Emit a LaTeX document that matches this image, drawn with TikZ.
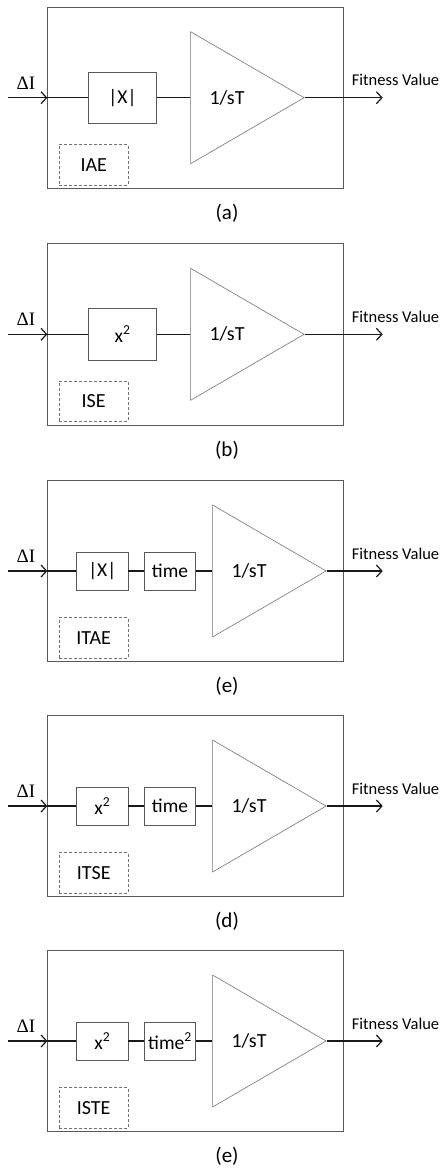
\documentclass[tikz,border=0pt]{standalone}
\usepackage{fontspec}
\setmainfont{Carlito}
\newfontfamily\deltafont{Liberation Serif}
\usetikzlibrary{arrows.meta}
\usetikzlibrary{shapes.geometric}
\usetikzlibrary{positioning}
\tikzset{frm/.style = {draw=black!65, line width=0.7pt, inner sep=0,
                       minimum width=295.6pt, minimum height=181.3pt}}
\tikzset{blk/.style = {draw=black!65, line width=0.7pt, inner sep=0,
                       font=\fontsize{19.5}{21}\selectfont}}
\tikzset{wideblk/.style = {blk, minimum width=68.4pt, minimum height=51.3pt}}
\tikzset{smallblk/.style = {blk, minimum width=51.3pt, minimum height=37.7pt}}
\tikzset{tag/.style = {draw=black!55, dash pattern=on 3pt off 2pt, line width=0.7pt,
                       minimum width=68.7pt, minimum height=40.7pt, inner sep=0,
                       font=\fontsize{20}{22}\selectfont}}
\tikzset{amp/.style = {draw=black!55, line width=0.6pt, isosceles triangle,
                       isosceles triangle stretches, inner sep=0,
                       minimum width=132pt, minimum height=113.5pt, anchor=lower side}}
\tikzset{sig/.style = {line width=1.5pt, black!90}}
\tikzset{tip/.style = {-{Straight Barb[length=5.5pt, width=12pt, line width=1.2pt]}}}

\begin{document}
\begin{tikzpicture}[x=1pt, y=-1pt]
  \useasboundingbox (0, 0) rectangle (441, 1170);

  % parts shared by all five panels
  \foreach \i/\y/\tx/\tagtext/\cap in {A/97.7/190.3/IAE/a, B/334.3/190.3/ISE/b,
      C/571/212.3/ITAE/e, D/806/212.3/ITSE/d, E/1041/212.3/ISTE/e} {
    \node [frm] (frame\i) at (195.5, \y) {};
    \node [amp] (tri\i) at (\tx, \y) {};
    \node [inner sep=0, font=\fontsize{20}{22}\selectfont,
           right=19pt of tri\i.lower side] (gain\i) {1/sT};
    \node [tag] (tag\i) at (93.7, \y+67) {\tagtext};
    \coordinate (in\i) at (8.3, \y);
    \coordinate (out\i) at (382.7, \y);
    \node [inner sep=0, anchor=base, font=\deltafont\fontsize{19}{21}\selectfont]
      (delta\i) at (26, \y-8.4) {ΔI};
    \node [inner sep=0, anchor=base, font=\fontsize{16.5}{18}\selectfont]
      (fit\i) at (395.5, \y-12) {Fitness Value};
    \node [inner sep=0, font=\fontsize{21}{23}\selectfont]
      (cap\i) at (227, \y+115.5) {(\cap)};
    \draw [sig, tip] (in\i) -- (frame\i.west);
    \draw [sig, tip] (tri\i.apex) -- (out\i);
  }

  % (a)
  \node [wideblk] (absA) at (122.5, 97.7) {|X|};
  \draw [sig] (frameA.west) -- (absA.west);
  \draw [sig] (absA.east) -- (triA.lower side);

  % (b)
  \node [wideblk] (sqB) at (122.5, 334.3) {x\textsuperscript{2}};
  \draw [sig] (frameB.west) -- (sqB.west);
  \draw [sig] (sqB.east) -- (triB.lower side);

  % (e) ITAE
  \node [smallblk] (absC) at (102.3, 571) {|X|};
  \node [smallblk] (timeC) at (170, 571) {time};
  \draw [sig] (frameC.west) -- (absC.west);
  \draw [sig] (absC.east) -- (timeC.west);
  \draw [sig] (timeC.east) -- (triC.lower side);

  % (d) ITSE
  \node [smallblk] (sqD) at (102.3, 806) {x\textsuperscript{2}};
  \node [smallblk] (timeD) at (170, 806) {time};
  \draw [sig] (frameD.west) -- (sqD.west);
  \draw [sig] (sqD.east) -- (timeD.west);
  \draw [sig] (timeD.east) -- (triD.lower side);

  % (e) ISTE
  \node [smallblk] (sqE) at (102.3, 1041) {x\textsuperscript{2}};
  \node [smallblk] (timeE) at (170, 1041) {time\textsuperscript{2}};
  \draw [sig] (frameE.west) -- (sqE.west);
  \draw [sig] (sqE.east) -- (timeE.west);
  \draw [sig] (timeE.east) -- (triE.lower side);
\end{tikzpicture}
\end{document}
